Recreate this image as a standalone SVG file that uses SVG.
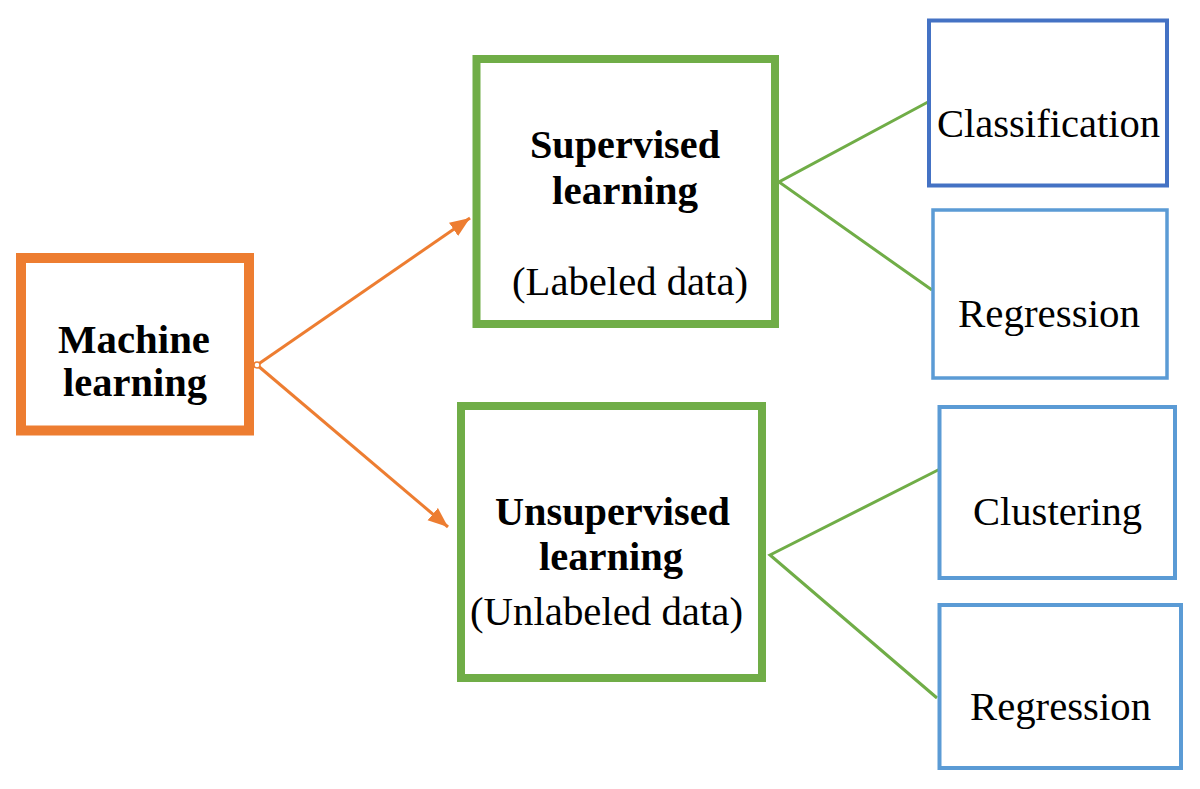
<svg xmlns="http://www.w3.org/2000/svg" width="1200" height="789" viewBox="0 0 1200 789">
<style>
.bx{fill:#fff}
.t{font-family:"Liberation Serif","Times New Roman",serif;font-size:39px;fill:#000;text-anchor:middle}
.b{font-weight:bold}
.or{stroke:#ED7D31;stroke-width:3;fill:none}
.gr{stroke:#70AD47;stroke-width:3;fill:none}
</style>
<defs>
<marker id="ah" markerUnits="userSpaceOnUse" markerWidth="24" markerHeight="20" refX="20" refY="8" orient="auto">
<path d="M0,0 L20,8 L0,16 z" fill="#ED7D31"/>
</marker>
</defs>
<rect width="1200" height="789" fill="#fff"/>
<g id="connectors">
<line class="or" x1="257" y1="365" x2="470" y2="218" marker-end="url(#ah)"/>
<line class="or" x1="257" y1="365" x2="448" y2="527" marker-end="url(#ah)"/>
<circle cx="257" cy="365" r="3" fill="#fff" stroke="#ED7D31" stroke-width="1.5"/>
<polyline class="gr" points="928,102 779,182 932,290"/>
<polyline class="gr" points="942,468 770,555 937,698"/>
</g>
<g id="machine-learning">
<rect class="bx" x="21" y="258" width="228" height="172.5" stroke="#ED7D31" stroke-width="10"/>
<text class="t b" x="134" y="353" textLength="152" lengthAdjust="spacingAndGlyphs">Machine</text>
<text class="t b" x="135" y="396" textLength="144" lengthAdjust="spacingAndGlyphs">learning</text>
</g>
<g id="supervised">
<rect class="bx" x="476.5" y="59" width="298.5" height="265" stroke="#70AD47" stroke-width="8"/>
<text class="t b" x="625" y="158" textLength="190" lengthAdjust="spacingAndGlyphs">Supervised</text>
<text class="t b" x="625" y="204" textLength="146" lengthAdjust="spacingAndGlyphs">learning</text>
<text class="t" x="630" y="295" textLength="236" lengthAdjust="spacingAndGlyphs">(Labeled data)</text>
</g>
<g id="unsupervised">
<rect class="bx" x="461" y="406" width="301" height="272" stroke="#70AD47" stroke-width="8"/>
<text class="t b" x="612.5" y="525" textLength="235" lengthAdjust="spacingAndGlyphs">Unsupervised</text>
<text class="t b" x="611" y="570" textLength="144" lengthAdjust="spacingAndGlyphs">learning</text>
<text class="t" x="606.5" y="625" textLength="273" lengthAdjust="spacingAndGlyphs">(Unlabeled data)</text>
</g>
<g id="classification">
<rect class="bx" x="929" y="20.5" width="238" height="165" stroke="#4472C4" stroke-width="4"/>
<text class="t" x="1048.5" y="137" textLength="223" lengthAdjust="spacingAndGlyphs">Classification</text>
</g>
<g id="regression1">
<rect class="bx" x="933" y="210" width="234" height="168" stroke="#5B9BD5" stroke-width="3.5"/>
<text class="t" x="1049" y="327" textLength="182" lengthAdjust="spacingAndGlyphs">Regression</text>
</g>
<g id="clustering">
<rect class="bx" x="939.5" y="407" width="235.5" height="171" stroke="#5B9BD5" stroke-width="4"/>
<text class="t" x="1057.5" y="525" textLength="169" lengthAdjust="spacingAndGlyphs">Clustering</text>
</g>
<g id="regression2">
<rect class="bx" x="939.5" y="605" width="241.5" height="163" stroke="#5B9BD5" stroke-width="4"/>
<text class="t" x="1060.5" y="720" textLength="181" lengthAdjust="spacingAndGlyphs">Regression</text>
</g>
</svg>
